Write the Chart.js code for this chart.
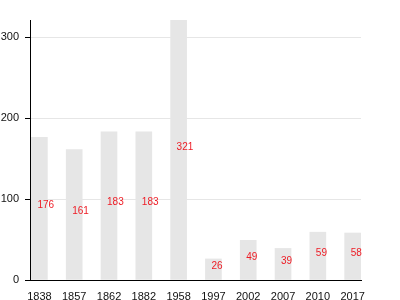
<!DOCTYPE html>
<html>
<head>
<meta charset="utf-8">
<script src="https://cdn.jsdelivr.net/npm/chart.js@4"></script>
<style>
  body { margin: 0; background: #fff; }
</style>
</head>
<body>
<canvas id="chart" width="400" height="300"></canvas>
<script>
const years = ["1838", "1857", "1862", "1882", "1958", "1997", "2002", "2007", "2010", "2017"];
const population = [176, 161, 183, 183, 321, 26, 49, 39, 59, 58];
const yTicks = [0, 100, 200, 300];

// bars are placed on a linear x scale so the first bar can sit right against the axis
const points = population.map((v, i) => ({ x: i, y: v }));

const barLabels = {
  id: "barLabels",
  afterDatasetsDraw(chart) {
    const ctx = chart.ctx;
    const meta = chart.getDatasetMeta(0);
    ctx.save();
    ctx.font = "10px 'Liberation Sans', Arial, sans-serif";
    ctx.fillStyle = "#ee1c25";
    ctx.textAlign = "left";
    ctx.textBaseline = "middle";
    meta.data.forEach((bar, i) => {
      const mid = (bar.y + bar.base) / 2 - 3;
      ctx.fillText(String(population[i]), bar.x - 2, mid);
    });
    ctx.restore();
  },
};

new Chart(document.getElementById("chart"), {
  type: "bar",
  data: {
    datasets: [
      {
        data: points,
        backgroundColor: "#e6e6e6",
        borderWidth: 0,
        barThickness: 16,
      },
    ],
  },
  options: {
    responsive: false,
    animation: false,
    layout: { padding: { top: 20, right: 39, left: 0, bottom: 0 } },
    plugins: { legend: { display: false }, tooltip: { enabled: false } },
    scales: {
      x: {
        type: "linear",
        min: -0.27,
        max: 9.24,
        offset: false,
        grid: { display: false, offset: false },
        border: { color: "#000", width: 1 },
        afterFit: (axis) => { axis.height = 20; },
        afterBuildTicks: (axis) => {
          axis.ticks = years.map((y, i) => ({ value: i }));
        },
        ticks: {
          autoSkip: false,
          maxRotation: 0,
          padding: 2,
          color: "#111",
          font: { family: "'Liberation Sans', Arial, sans-serif", size: 11 },
          callback: (v) => years[v],
        },
      },
      y: {
        min: 0,
        max: 321,
        grid: { color: "#e6e6e6", tickColor: "#000", tickLength: 5 },
        border: { color: "#000", width: 1 },
        afterFit: (axis) => { axis.width = 30; },
        afterBuildTicks: (axis) => {
          axis.ticks = yTicks.map((v) => ({ value: v }));
        },
        ticks: {
          padding: 6,
          color: "#111",
          font: { family: "'Liberation Sans', Arial, sans-serif", size: 11 },
        },
      },
    },
  },
  plugins: [barLabels],
});
</script>
</body>
</html>
